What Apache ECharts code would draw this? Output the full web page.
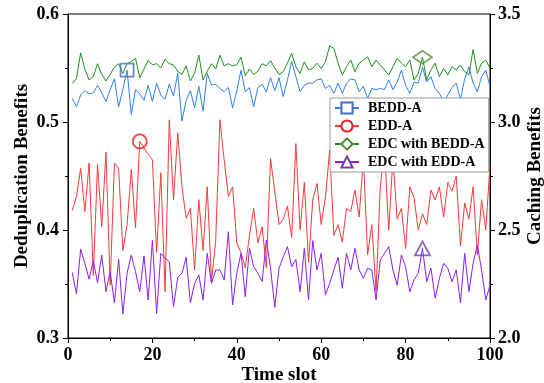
<!DOCTYPE html>
<html><head><meta charset="utf-8">
<script src="https://cdn.jsdelivr.net/npm/echarts@6/dist/echarts.min.js"></script>
<style>html,body{margin:0;padding:0;background:#fff}#c{width:544px;height:383px}</style>
</head><body><div id="c"></div>
<script>
const timeSlots = Array.from({length: 100}, (_, i) => i + 1);
const xTicks = [0, 20, 40, 60, 80, 100];
const leftTicks = [0.3, 0.4, 0.5, 0.6];
const rightTicks = [2.0, 2.5, 3.0, 3.5];
const seriesNames = ['BEDD-A', 'EDD-A', 'EDC with BEDD-A', 'EDC with EDD-A'];

// Deduplication benefits (left axis)
const beddA = [0.522,0.514,0.525,0.529,0.526,0.527,0.534,0.527,0.519,0.530,
0.540,0.514,0.530,0.548,0.507,0.530,0.526,0.520,0.534,0.519,
0.536,0.525,0.521,0.535,0.524,0.545,0.501,0.520,0.529,0.513,
0.533,0.510,0.545,0.534,0.535,0.531,0.528,0.532,0.513,0.529,
0.548,0.528,0.532,0.514,0.532,0.535,0.528,0.541,0.529,0.541,
0.5235,0.539,0.556,0.542,0.528,0.534,0.536,0.536,0.539,0.540,
0.531,0.534,0.5265,0.536,0.5265,0.536,0.540,0.539,0.528,0.533,
0.522,0.531,0.530,0.531,0.530,0.539,0.530,0.537,0.548,0.534,
0.5265,0.537,0.536,0.5506,0.537,0.542,0.531,0.5265,0.519,0.525,
0.532,0.536,0.521,0.540,0.551,0.536,0.528,0.542,0.548,0.533];
const eddA = [0.418,0.431,0.457,0.417,0.462,0.358,0.461,0.403,0.472,0.349,
0.462,0.457,0.381,0.405,0.456,0.402,0.482,0.476,0.470,0.465,
0.379,0.453,0.343,0.502,0.428,0.490,0.440,0.411,0.420,0.363,
0.428,0.381,0.440,0.352,0.390,0.502,0.465,0.431,0.440,0.388,
0.379,0.365,0.395,0.420,0.388,0.403,0.365,0.466,0.436,0.405,
0.410,0.422,0.393,0.480,0.400,0.444,0.370,0.428,0.443,0.405,
0.430,0.474,0.395,0.405,0.389,0.420,0.417,0.437,0.412,0.467,
0.377,0.405,0.343,0.440,0.474,0.400,0.467,0.410,0.420,0.383,
0.440,0.430,0.400,0.415,0.405,0.437,0.428,0.440,0.412,0.444,
0.436,0.450,0.385,0.425,0.410,0.440,0.377,0.428,0.400,0.460];
// Caching benefits (right axis)
const edcBeddA = [3.180,3.200,3.320,3.245,3.195,3.210,3.270,3.220,3.190,3.220,
3.255,3.270,3.225,3.270,3.280,3.295,3.205,3.245,3.285,3.265,
3.270,3.250,3.290,3.270,3.265,3.235,3.220,3.260,3.190,3.225,
3.310,3.195,3.235,3.270,3.245,3.310,3.260,3.270,3.260,3.265,
3.300,3.215,3.245,3.220,3.235,3.270,3.260,3.285,3.250,3.220,
3.233,3.272,3.318,3.256,3.225,3.279,3.241,3.248,3.272,3.248,
3.279,3.352,3.341,3.272,3.218,3.256,3.287,3.233,3.272,3.287,
3.302,3.256,3.287,3.264,3.241,3.218,3.256,3.295,3.272,3.256,
3.287,3.194,3.225,3.300,3.194,3.241,3.272,3.210,3.248,3.218,
3.256,3.241,3.264,3.233,3.218,3.336,3.225,3.272,3.287,3.248];
const edcEddA = [2.303,2.204,2.411,2.346,2.272,2.358,2.256,2.384,2.214,2.307,
2.163,2.364,2.111,2.300,2.384,2.307,2.214,2.380,2.176,2.451,
2.114,2.392,2.369,2.353,2.145,2.281,2.300,2.374,2.163,2.253,
2.292,2.176,2.392,2.253,2.315,2.315,2.269,2.492,2.153,2.300,
2.392,2.191,2.415,2.330,2.300,2.261,2.454,2.323,2.142,2.323,
2.375,2.423,2.330,2.364,2.214,2.415,2.176,2.451,2.315,2.392,
2.199,2.253,2.315,2.374,2.230,2.392,2.315,2.415,2.315,2.276,
2.323,2.315,2.176,2.361,2.392,2.423,2.315,2.245,2.384,2.330,
2.214,2.269,2.300,2.415,2.261,2.323,2.184,2.276,2.346,2.323,
2.261,2.315,2.163,2.392,2.214,2.346,2.431,2.315,2.176,2.245];

// which time slot carries the highlighted marker for each series
const markerSlots = [14, 17, 84, 84];

const colors = ['#2f80e8', '#f53a3a', '#1f8f1f', '#8a1ef2'];
const markColors = ['#4a6cc4', '#ee1c1c', '#4f8a35', '#7040a8'];
const symbols = ['emptyRect', 'emptyCircle', 'emptyDiamond', 'emptyTriangle'];
const allData = [beddA, eddA, edcBeddA, edcEddA];
const axisIdx = [0, 0, 1, 1];
const markSizes = [[13, 13], [14, 14], [19, 13], [15, 14]];

const font = 'Liberation Serif';
const pair = arr => timeSlots.map((t, i) => [t, arr[i]]);

const series = [];
allData.forEach((arr, k) => {
  series.push({
    name: seriesNames[k], type: 'line', yAxisIndex: axisIdx[k],
    data: pair(arr), symbol: symbols[k], showSymbol: false, symbolSize: 12,
    itemStyle: {color: markColors[k]},
    lineStyle: {color: colors[k], width: 1}, silent: true, animation: false, z: 2
  });
});
allData.forEach((arr, k) => {
  const s = markerSlots[k];
  series.push({
    name: 'mk' + k, type: 'scatter', yAxisIndex: axisIdx[k],
    data: [[s, arr[s - 1]]], symbol: symbols[k].replace('empty', '').toLowerCase(),
    symbolSize: markSizes[k],
    itemStyle: {color: 'rgba(0,0,0,0)', borderColor: markColors[k], borderWidth: 1.8},
    silent: true, animation: false, z: 3
  });
});

const chart = echarts.init(document.getElementById('c'), null, {renderer: 'canvas'});
const lbl = {fontFamily: font, fontWeight: 'bold', fontSize: 18, color: '#000'};
const nameStyle = {fontFamily: font, fontWeight: 'bold', fontSize: 19, color: '#000'};
chart.setOption({
  animation: false,
  backgroundColor: '#fff',
  grid: {left: 68, right: 54, top: 14, bottom: 45, show: true, borderColor: '#000', borderWidth: 1,
         backgroundColor: 'transparent', containLabel: false, outerBoundsMode: 'none'},
  legend: {
    data: seriesNames,
    orient: 'vertical', left: 330, top: 98,
    padding: [3, 4, 3, 4], itemGap: 4, itemWidth: 24, itemHeight: 14,
    backgroundColor: '#fff', borderColor: '#9a9a9a', borderWidth: 1, borderRadius: 0,
    textStyle: {fontFamily: font, fontWeight: 'bold', fontSize: 14, color: '#000', padding: [0, 0, 0, 4]},
    selectedMode: false
  },
  xAxis: {
    type: 'value', min: xTicks[0], max: xTicks[xTicks.length - 1], interval: 20,
    name: 'Time slot', nameLocation: 'middle', nameGap: 28, nameMoveOverlap: false,
    nameTextStyle: nameStyle,
    axisLine: {lineStyle: {color: '#000', width: 1}},
    axisTick: {length: 5, lineStyle: {color: '#000'}},
    minorTick: {show: true, splitNumber: 2, length: 3, lineStyle: {color: '#000'}},
    splitLine: {show: false},
    axisLabel: Object.assign({margin: 8}, lbl)
  },
  yAxis: [{
    type: 'value', min: leftTicks[0], max: leftTicks[leftTicks.length - 1], interval: 0.1,
    name: 'Deduplication Benefits', nameLocation: 'middle', nameGap: 36, nameMoveOverlap: false,
    nameTextStyle: nameStyle,
    axisLine: {show: true, lineStyle: {color: '#000', width: 1}},
    axisTick: {show: true, length: 5, lineStyle: {color: '#000'}},
    minorTick: {show: true, splitNumber: 2, length: 3, lineStyle: {color: '#000'}},
    splitLine: {show: false},
    axisLabel: Object.assign({margin: 9, formatter: v => v.toFixed(1)}, lbl)
  }, {
    type: 'value', min: rightTicks[0], max: rightTicks[rightTicks.length - 1], interval: 0.5,
    name: 'Caching Benefits', nameLocation: 'middle', nameGap: 36, position: 'right', nameMoveOverlap: false,
    nameTextStyle: nameStyle,
    axisLine: {show: true, lineStyle: {color: '#000', width: 1}},
    axisTick: {show: true, length: 5, lineStyle: {color: '#000'}},
    minorTick: {show: true, splitNumber: 2, length: 3, lineStyle: {color: '#000'}},
    splitLine: {show: false},
    axisLabel: Object.assign({margin: 8, formatter: v => v.toFixed(1)}, lbl)
  }],
  series: series
});
</script></body></html>
